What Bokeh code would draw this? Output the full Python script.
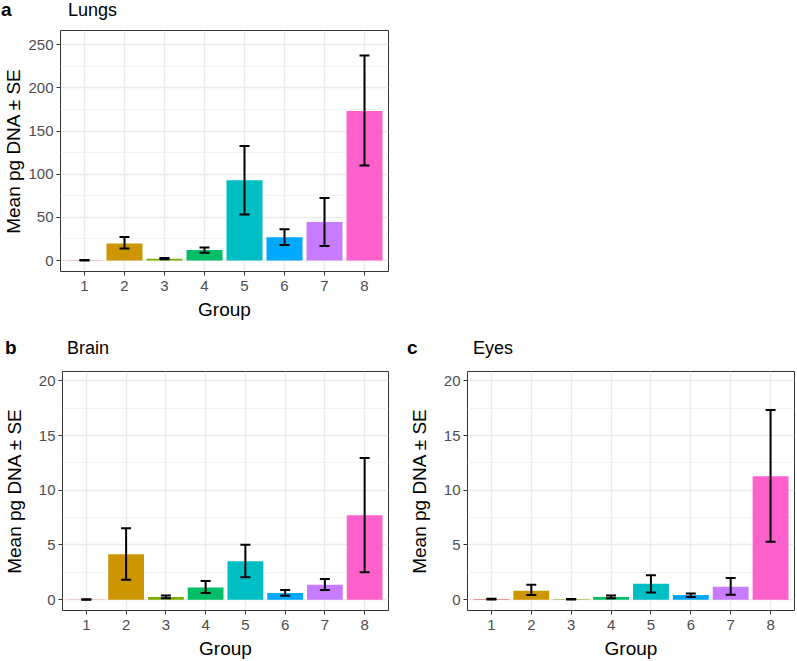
from bokeh.plotting import figure
from bokeh.models import ColumnDataSource, Whisker, TeeHead, FixedTicker, Range1d, Div
from bokeh.layouts import column, row
from bokeh.embed import file_html
from bokeh.resources import INLINE

# ---- data ----
groups = [1, 2, 3, 4, 5, 6, 7, 8]
group_colors = ["#F8766D", "#CD9600", "#7CAE00", "#00BE67",
                "#00BFC4", "#00A9FF", "#C77CFF", "#FF61CC"]

lungs_mean = [0.3, 19.7, 2.2, 12.1, 93.0, 27.0, 44.7, 173.2]
lungs_lower = [0.0, 13.9, 1.5, 9.0, 53.2, 18.1, 16.9, 110.0]
lungs_upper = [0.6, 27.3, 2.9, 15.2, 132.6, 36.2, 72.5, 237.6]

brain_mean = [0.01, 4.15, 0.24, 1.12, 3.51, 0.60, 1.36, 7.71]
brain_lower = [0.0, 1.81, 0.12, 0.60, 2.06, 0.36, 0.88, 2.51]
brain_upper = [0.03, 6.53, 0.39, 1.70, 5.02, 0.88, 1.90, 12.95]

eyes_mean = [0.05, 0.82, 0.04, 0.24, 1.45, 0.42, 1.18, 11.28]
eyes_lower = [0.02, 0.42, 0.02, 0.12, 0.66, 0.24, 0.45, 5.29]
eyes_upper = [0.08, 1.36, 0.06, 0.39, 2.24, 0.57, 1.97, 17.33]

lungs_ticks = [0, 50, 100, 150, 200, 250]
lungs_minor = [25, 75, 125, 175, 225]
small_ticks = [0, 5, 10, 15, 20]
small_minor = [2.5, 7.5, 12.5, 17.5]

FONT = "Liberation Sans"


def make_panel(mean, lower, upper, y_range, ticks, minor,
               width, height, bl, br, bt, bb, ylab_standoff):
    p = figure(width=width, height=height,
               x_range=Range1d(0.4, 8.6), y_range=Range1d(*y_range),
               output_backend="svg", toolbar_location=None,
               min_border_left=bl, min_border_right=br,
               min_border_top=bt, min_border_bottom=bb)
    p.background_fill_color = "white"
    p.border_fill_color = "white"
    p.outline_line_color = "#333333"
    p.outline_line_width = 1

    src = ColumnDataSource(dict(x=groups, top=mean, lower=lower, upper=upper,
                                color=group_colors))
    p.vbar(x="x", top="top", bottom=0, width=0.9, source=src,
           fill_color="color", line_color=None)
    w = Whisker(base="x", lower="lower", upper="upper", source=src,
                dimension="height", line_color="black", line_width=2,
                upper_head=TeeHead(size=10, line_width=2, line_color="black"),
                lower_head=TeeHead(size=10, line_width=2, line_color="black"))
    w.level = "overlay"
    p.add_layout(w)

    p.xaxis.ticker = FixedTicker(ticks=groups)
    p.yaxis.ticker = FixedTicker(ticks=ticks, minor_ticks=minor)

    for ax in (p.xaxis[0], p.yaxis[0]):
        ax.axis_line_color = None
        ax.major_tick_line_color = "#333333"
        ax.major_tick_line_width = 1
        ax.major_tick_out = 4
        ax.major_tick_in = 0
        ax.minor_tick_line_color = None
        ax.major_label_text_font = FONT
        ax.major_label_text_font_size = "15px"
        ax.major_label_text_color = "#4D4D4D"
        ax.axis_label_text_font = FONT
        ax.axis_label_text_font_size = "19px"
        ax.axis_label_text_font_style = "normal"
        ax.axis_label_text_color = "black"
    p.xaxis.axis_label = "Group"
    p.yaxis.axis_label = "Mean pg DNA ± SE"
    p.xaxis.major_label_standoff = 5
    p.xaxis.axis_label_standoff = 5
    p.yaxis.major_label_standoff = 3
    p.yaxis.axis_label_standoff = ylab_standoff

    p.xgrid.grid_line_color = "#EBEBEB"
    p.xgrid.grid_line_width = 1.4
    p.ygrid.grid_line_color = "#EBEBEB"
    p.ygrid.grid_line_width = 1.4
    p.ygrid.minor_grid_line_color = "#F0F0F0"
    p.ygrid.minor_grid_line_width = 0.8
    return p


def heading(letter, name, width, height, letter_x, name_x, top):
    html = (
        f'<div style="position:relative;width:{width}px;height:{height}px;'
        f'font-family:\'{FONT}\';color:black;line-height:22px;">'
        f'<span style="position:absolute;left:{letter_x}px;top:{top}px;'
        f'font-weight:bold;font-size:19px;">{letter}</span>'
        f'<span style="position:absolute;left:{name_x}px;top:{top}px;'
        f'font-size:18px;">{name}</span></div>'
    )
    return Div(text=html, width=width, height=height,
               styles={"margin": "0", "padding": "0", "overflow": "visible"})


ha = heading("a", "Lungs", 400, 26, 1, 68, -1)
pa = make_panel(lungs_mean, lungs_lower, lungs_upper,
                (-12.7, 266.5), lungs_ticks, lungs_minor,
                400, 304, 60, 12, 4, 59, 1)
hb = heading("b", "Brain", 400, 37, 5, 67, 7)
hc = heading("c", "Eyes", 397, 37, 7, 73, 7)
pb = make_panel(brain_mean, brain_lower, brain_upper,
                (-0.99, 20.86), small_ticks, small_minor,
                400, 294, 60, 12, 4, 50, 11)
pc = make_panel(eyes_mean, eyes_lower, eyes_upper,
                (-0.99, 20.86), small_ticks, small_minor,
                397, 294, 67, 3, 4, 50, 11)

layout = column(ha, pa, row(hb, hc), row(pb, pc))

open("out.html", "w").write(file_html(layout, INLINE))
